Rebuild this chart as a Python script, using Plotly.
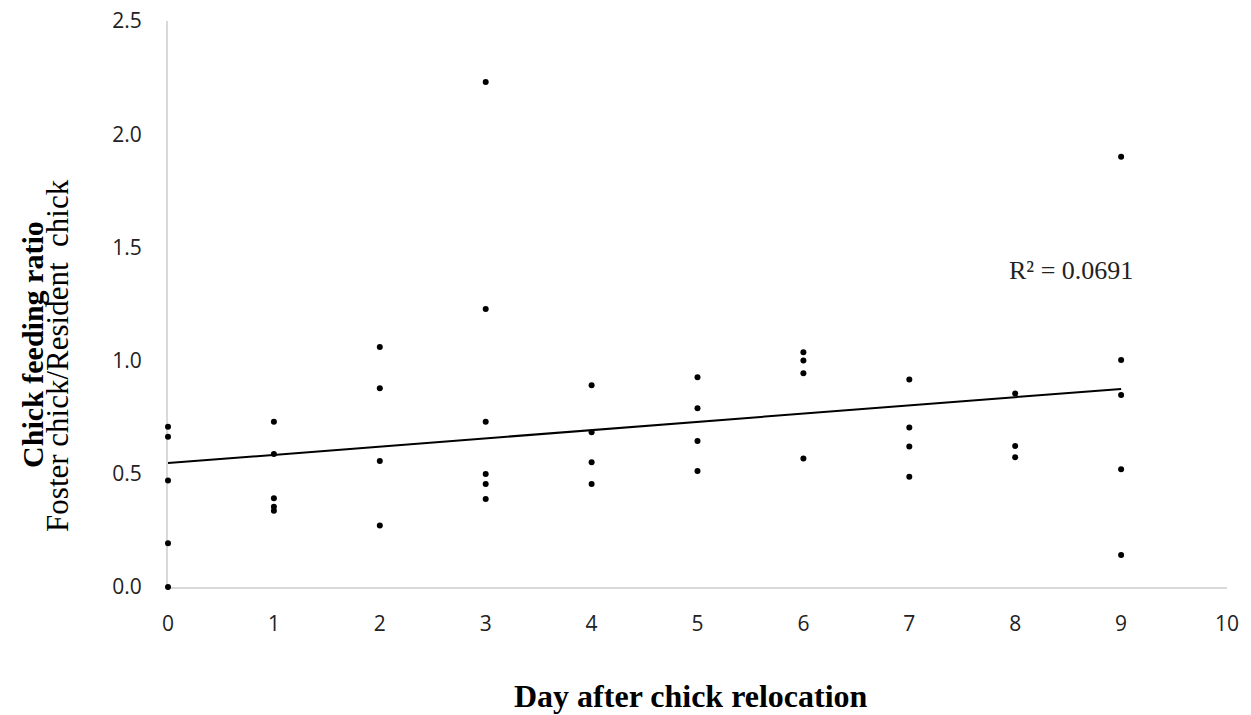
import numpy as np
import plotly.graph_objects as go

# Data
day = [0, 0, 0, 0, 0,
       1, 1, 1, 1, 1,
       2, 2, 2, 2,
       3, 3, 3, 3, 3, 3,
       4, 4, 4, 4,
       5, 5, 5, 5,
       6, 6, 6, 6,
       7, 7, 7, 7,
       8, 8, 8,
       9, 9, 9, 9, 9]
ratio = [0.708, 0.664, 0.470, 0.193, 0.0,
         0.730, 0.587, 0.392, 0.355, 0.337,
         1.060, 0.878, 0.557, 0.272,
         2.231, 1.228, 0.730, 0.499, 0.455, 0.389,
         0.891, 0.683, 0.551, 0.455,
         0.926, 0.789, 0.645, 0.512,
         1.037, 1.000, 0.944, 0.568,
         0.917, 0.704, 0.621, 0.487,
         0.855, 0.623, 0.573,
         1.900, 1.003, 0.848, 0.520, 0.141]
x_ticks = list(range(0, 11))
y_ticks = [0.0, 0.5, 1.0, 1.5, 2.0, 2.5]
y_tick_labels = ["0.0", "0.5", "1.0", "1.5", "2.0", "2.5"]
r2_label = "R² = 0.0691"

# Linear trend line fitted to the data
slope, intercept = np.polyfit(day, ratio, 1)
trend_x = [min(day), max(day)]
trend_y = [intercept + slope * v for v in trend_x]

fig = go.Figure()
fig.add_trace(go.Scatter(
    x=trend_x, y=trend_y, mode="lines",
    line=dict(color="black", width=2), hoverinfo="skip", showlegend=False,
))
fig.add_trace(go.Scatter(
    x=day, y=ratio, mode="markers",
    marker=dict(color="black", size=6),
    cliponaxis=False, showlegend=False,
))

serif = "Liberation Serif, Times New Roman, serif"
sans = "Open Sans, sans-serif"

fig.update_layout(
    width=1251, height=715,
    margin=dict(l=168, r=24, t=21, b=128, autoexpand=False),
    plot_bgcolor="white", paper_bgcolor="white",
    font=dict(family=sans, size=21, color="black"),
    xaxis=dict(
        range=[0, 10], tickvals=x_ticks, showgrid=False, zeroline=False,
        showline=True, linecolor="#d9d9d9", linewidth=2,
        ticks="", ticklabelstandoff=17, automargin=False, layer="below traces",
        tickfont=dict(family=sans, size=21, color="#222"),
    ),
    yaxis=dict(
        range=[0, 2.5], tickvals=y_ticks, ticktext=y_tick_labels,
        showgrid=False, zeroline=False,
        showline=True, linecolor="#d9d9d9", linewidth=2,
        ticks="", ticklabelstandoff=20, automargin=False, layer="below traces",
        tickfont=dict(family=sans, size=21, color="#222"),
    ),
    annotations=[
        dict(text="<b>Chick feeding ratio</b>", xref="paper", yref="paper",
             x=-0.1287, y=0.429, xanchor="center", yanchor="middle",
             textangle=-90, showarrow=False,
             font=dict(family=serif, size=30, color="black")),
        dict(text="Foster chick/Resident  chick", xref="paper", yref="paper",
             x=-0.1039, y=0.41, xanchor="center", yanchor="middle",
             textangle=-90, showarrow=False,
             font=dict(family=serif, size=31, color="black")),
        dict(text="<b>Day after chick relocation</b>", xref="paper", yref="paper",
             x=0.494, y=-0.193, xanchor="center", yanchor="middle",
             showarrow=False,
             font=dict(family=serif, size=32, color="black")),
        dict(text=r2_label, xref="x", yref="y",
             x=7.92, y=1.40, xanchor="left", yanchor="middle",
             showarrow=False,
             font=dict(family=serif, size=26, color="#222")),
    ],
)

fig.write_html("out.html")
